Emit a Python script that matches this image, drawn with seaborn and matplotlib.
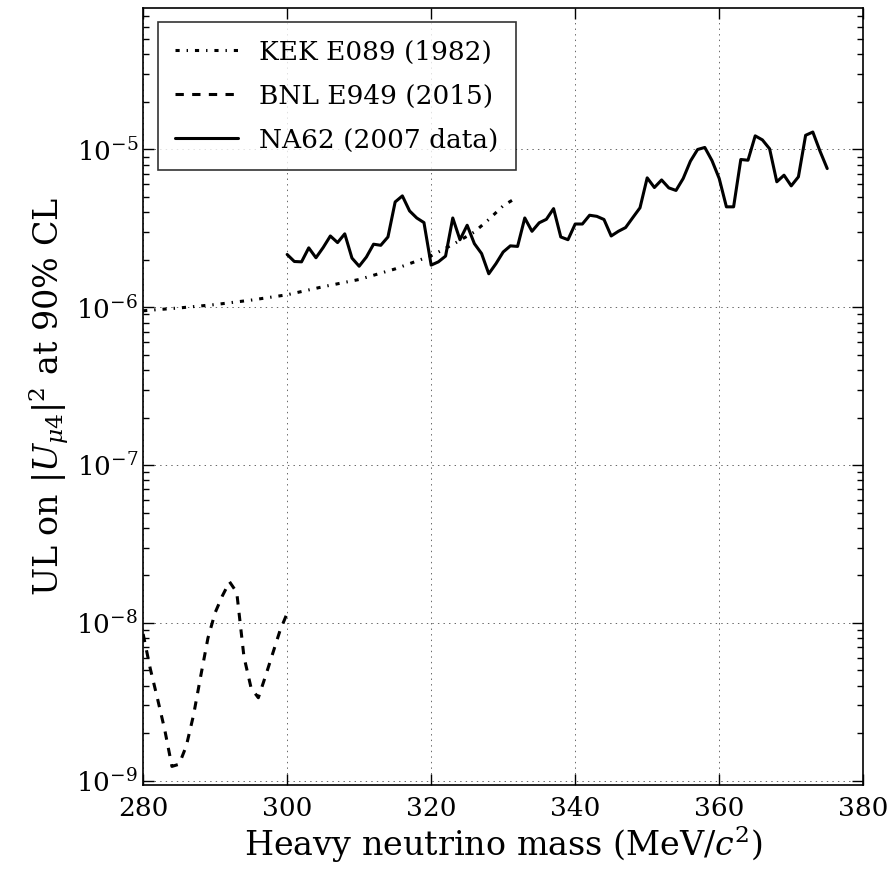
import numpy as np
import matplotlib
matplotlib.use("Agg")
import matplotlib.pyplot as plt
import seaborn as sns

# KEK E089 (1982)
kek_mass = [280, 285, 290, 295, 300, 305, 310, 315, 320, 323, 326, 328, 330, 332]
kek_ul = [9.5e-7, 9.9e-7, 1.04e-6, 1.11e-6, 1.20e-6, 1.35e-6, 1.50e-6, 1.75e-6,
          2.12e-6, 2.5e-6, 3.0e-6, 3.6e-6, 4.4e-6, 5.0e-6]

# BNL E949 (2015)
bnl_mass = list(range(280, 301))
bnl_ul = [8.5e-9, 5.1e-9, 3.3e-9, 2.1e-9, 1.23e-9, 1.27e-9, 1.66e-9, 2.6e-9,
          4.6e-9, 8.0e-9, 1.16e-8, 1.48e-8, 1.82e-8, 1.56e-8, 6.1e-9, 3.85e-9,
          3.35e-9, 4.6e-9, 6.4e-9, 8.9e-9, 1.15e-8]

# NA62 (2007 data)
na62_mass = list(range(300, 376))
na62_ul = [2.16e-6, 1.95e-6, 1.94e-6, 2.38e-6, 2.06e-6, 2.39e-6, 2.83e-6, 2.57e-6,
           2.92e-6, 2.05e-6, 1.82e-6, 2.08e-6, 2.51e-6, 2.47e-6, 2.79e-6, 4.65e-6,
           5.08e-6, 4.08e-6, 3.68e-6, 3.44e-6, 1.85e-6, 1.94e-6, 2.11e-6, 3.68e-6,
           2.68e-6, 3.31e-6, 2.53e-6, 2.19e-6, 1.63e-6, 1.89e-6, 2.24e-6, 2.45e-6,
           2.43e-6, 3.68e-6, 3.03e-6, 3.43e-6, 3.61e-6, 4.22e-6, 2.79e-6, 2.68e-6,
           3.37e-6, 3.37e-6, 3.83e-6, 3.77e-6, 3.60e-6, 2.83e-6, 3.03e-6, 3.20e-6,
           3.70e-6, 4.27e-6, 6.61e-6, 5.74e-6, 6.41e-6, 5.71e-6, 5.50e-6, 6.55e-6,
           8.43e-6, 1.00e-5, 1.03e-5, 8.5e-6, 6.55e-6, 4.33e-6, 4.33e-6, 8.64e-6,
           8.55e-6, 1.22e-5, 1.15e-5, 1.01e-5, 6.24e-6, 6.87e-6, 5.88e-6, 6.71e-6,
           1.23e-5, 1.29e-5, 9.76e-6, 7.57e-6]

sns.set_style("ticks")
plt.rcParams["font.family"] = ["DejaVu Serif"]
plt.rcParams["mathtext.fontset"] = "dejavuserif"
plt.rcParams["lines.scale_dashes"] = False
plt.rcParams["text.color"] = "black"
plt.rcParams["axes.labelcolor"] = "black"
plt.rcParams["xtick.color"] = "black"
plt.rcParams["ytick.color"] = "black"

fig, ax = plt.subplots(figsize=(8.89, 8.73), dpi=100)
fig.subplots_adjust(left=0.161, right=0.971, top=0.991, bottom=0.101)

sns.lineplot(x=kek_mass, y=kek_ul, ax=ax, color="black", lw=2.2,
             linestyle=(0, (3, 5, 1, 5)), label="KEK E089 (1982)")
sns.lineplot(x=bnl_mass, y=bnl_ul, ax=ax, color="black", lw=2.2,
             linestyle=(0, (6, 6)), label="BNL E949 (2015)")
sns.lineplot(x=na62_mass, y=na62_ul, ax=ax, color="black", lw=2.2,
             linestyle="-", label="NA62 (2007 data)")

ax.set_yscale("log")
ax.set_xlim(280, 380)
ax.set_ylim(9.4e-10, 7.9e-5)
ax.set_xticks([280, 300, 320, 340, 360, 380])

ax.grid(True, which="major", linestyle=(0, (1, 3)), color="0.3", lw=0.6)
ax.tick_params(which="both", direction="in", top=True, right=True, labelsize=19)
ax.tick_params(which="major", length=8, width=1)
ax.tick_params(which="minor", length=4, width=1)
ax.tick_params(axis="x", pad=8)
for s in ax.spines.values():
    s.set_linewidth(1.2)
    s.set_color("black")

ax.set_xlabel("Heavy neutrino mass (MeV/$c^2$)", fontsize=24, labelpad=2)
ax.set_ylabel("UL on $|U_{\\mu4}|^2$ at 90% CL", fontsize=24)

leg = ax.legend(loc="upper left", fontsize=19, frameon=True, fancybox=False,
                handlelength=2.4, borderpad=0.65, labelspacing=0.72,
                borderaxespad=0.55)
leg.get_frame().set_edgecolor("black")
leg.get_frame().set_linewidth(1.2)

fig.savefig("out.png", dpi=100)
